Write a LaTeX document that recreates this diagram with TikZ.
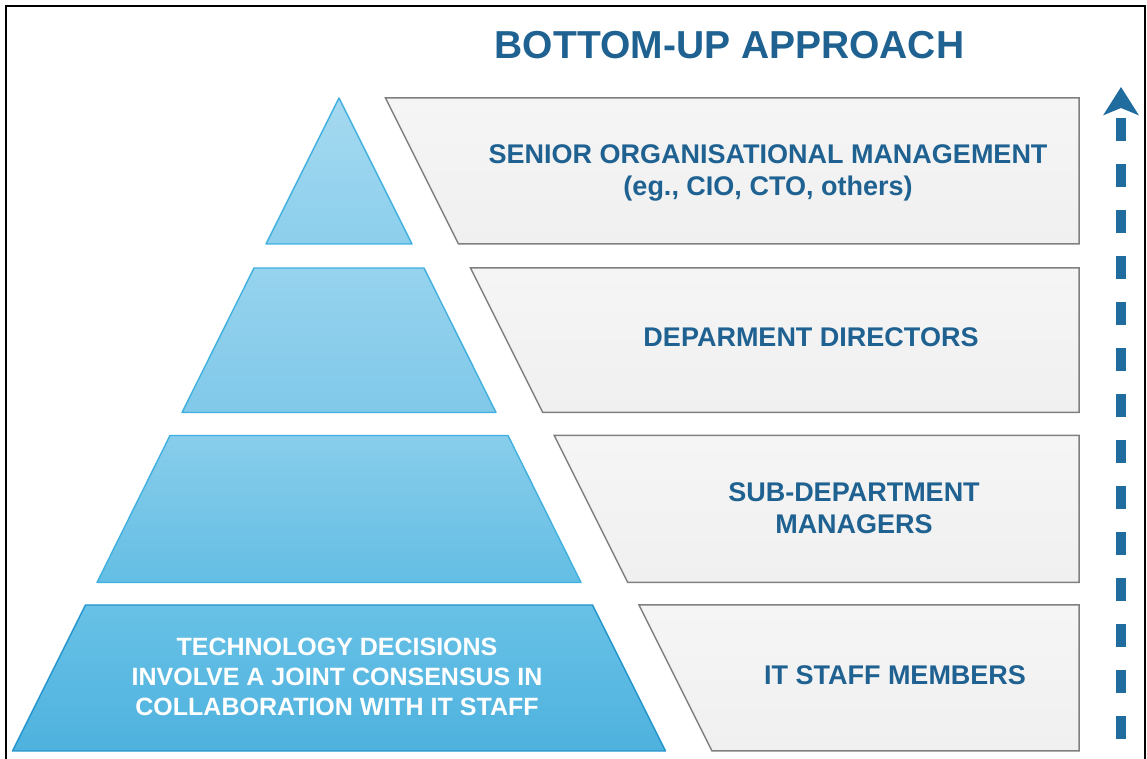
\documentclass[tikz,border=0pt]{standalone}
\usepackage{fontspec}
\setmainfont{Liberation Sans}
\usetikzlibrary{arrows.meta,positioning}

\definecolor{txtblue}{RGB}{31,98,145}
\definecolor{arrowblue}{RGB}{33,108,158}
\definecolor{tierline}{RGB}{64,176,224}
\definecolor{tierlinedk}{RGB}{35,148,205}
\definecolor{boxtop}{RGB}{245,245,245}
\definecolor{boxbot}{RGB}{240,240,240}
\definecolor{boxline}{RGB}{128,128,128}

\begin{document}
\begin{tikzpicture}[x=1pt, y=1pt,
    tier/.style={draw=tierline, line width=1.4pt, line join=round},
    rolebox/.style={draw=boxline, line width=1.5pt, top color=boxtop, bottom color=boxbot},
    lab/.style={font=\fontsize{27}{31.5}\selectfont\bfseries, text=txtblue, align=center, inner sep=0pt},
    flow/.style={-{Stealth[length=28pt, width=35pt, inset=7pt]}, line width=9.3pt, dash pattern=on 23pt off 23pt, arrowblue}
  ]
    \useasboundingbox (0,0) rectangle (1147,759);
    \draw[line width=2.5pt] (6,-5) -- (6,753) -- (1145,753) -- (1145,-5);

    \node[font=\fontsize{39}{44}\selectfont\bfseries, text=txtblue, anchor=base] (title) at (729.5,700) {BOTTOM-UP APPROACH};

    % pyramid
    \draw[tier, top color={rgb,255:red,165;green,217;blue,240}, bottom color={rgb,255:red,140;green,207;blue,236}]
      (339,661) -- (412,515) -- (266,515) -- cycle;
    \draw[tier, top color={rgb,255:red,150;green,211;blue,238}, bottom color={rgb,255:red,128;green,200;blue,233}]
      (254,491) -- (424,491) -- (496,346.5) -- (182,346.5) -- cycle;
    \draw[tier, top color={rgb,255:red,136;green,205;blue,235}, bottom color={rgb,255:red,100;green,190;blue,228}]
      (170,323.5) -- (508,323.5) -- (581,176.5) -- (97,176.5) -- cycle;
    \draw[tier, draw=tierlinedk, top color={rgb,255:red,104;green,193;blue,230}, bottom color={rgb,255:red,78;green,178;blue,222}]
      (85.5,154) -- (592.5,154) -- (665.5,8) -- (12.5,8) -- cycle;

    % role boxes
    \draw[rolebox] (385.5,661) -- (1079,661) -- (1079,515) -- (458.5,515) -- cycle;
    \draw[rolebox] (470.5,491) -- (1079,491) -- (1079,346.5) -- (542.75,346.5) -- cycle;
    \draw[rolebox] (554.25,323.5) -- (1079,323.5) -- (1079,176.5) -- (627.75,176.5) -- cycle;
    \draw[rolebox] (639,154) -- (1079,154) -- (1079,8) -- (712,8) -- cycle;

    \node[lab] (senior) at (768,586) {SENIOR ORGANISATIONAL MANAGEMENT\\(eg., CIO, CTO, others)};
    \node[lab] (dirs) at (811,421.3) {DEPARMENT DIRECTORS};
    \node[lab] (subs) at (854,250.6) {SUB-DEPARTMENT\\MANAGERS};
    \node[lab] (staff) at (895,83.3) {IT STAFF MEMBERS};
    \node[lab, text=white, font=\fontsize{25}{30}\selectfont\bfseries] (tech) at (337,82)
      {TECHNOLOGY DECISIONS\\INVOLVE A JOINT CONSENSUS IN\\COLLABORATION WITH IT STAFF};

    \coordinate (arrbot) at (1121,20);
    \coordinate (arrtop) at (1121,672);
    \draw[flow] (arrbot) -- (arrtop);
  \end{tikzpicture}
\end{document}
